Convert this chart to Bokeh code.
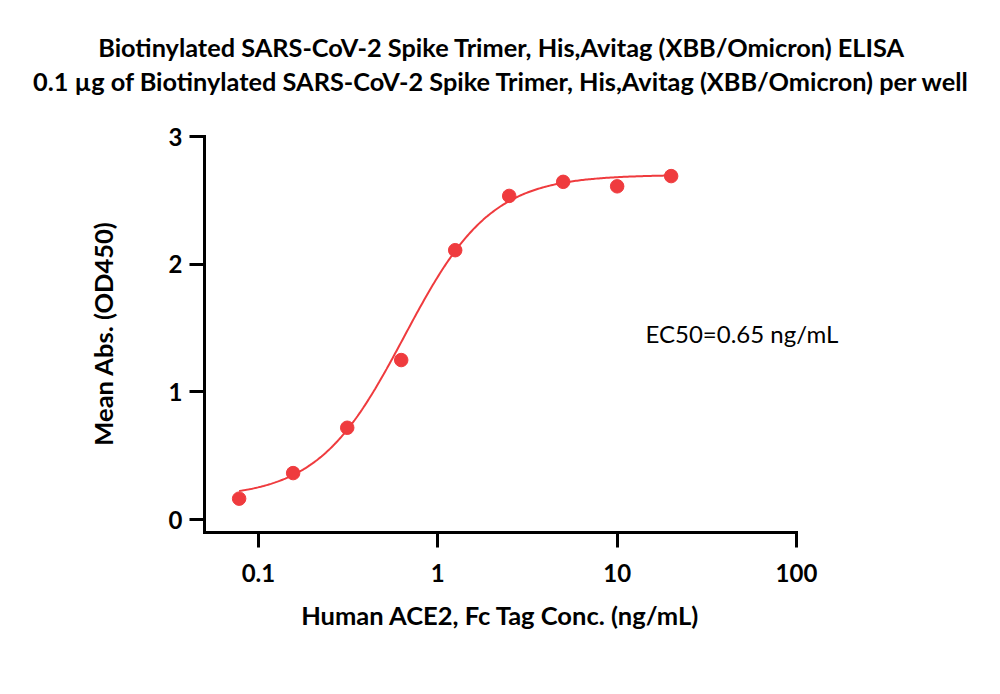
import numpy as np
from bokeh.plotting import figure
from bokeh.models import Label, FixedTicker, Range1d
from bokeh.embed import file_html
from bokeh.resources import INLINE

# ---- data ----
conc = [0.078, 0.156, 0.3125, 0.625, 1.25, 2.5, 5, 10, 20]
od450 = [0.165, 0.365, 0.72, 1.25, 2.11, 2.535, 2.645, 2.61, 2.69]

# 4PL fit parameters (curve drawn by the fitted model)
fit_bottom = 0.17
fit_top = 2.70
fit_ec50 = 0.65
fit_hill = 1.8

x_ticks = [0.1, 1, 10, 100]
x_tick_labels = ["0.1", "1", "10", "100"]
y_ticks = [0, 1, 2, 3]

title1 = "Biotinylated SARS-CoV-2 Spike Trimer, His,Avitag (XBB/Omicron) ELISA"
title2 = "0.1 \u00b5g of Biotinylated SARS-CoV-2 Spike Trimer, His,Avitag (XBB/Omicron) per well"
x_label = "Human ACE2, Fc Tag Conc. (ng/mL)"
y_label = "Mean Abs. (OD450)"
ec50_text = "EC50=0.65 ng/mL"

RED = "#EF3B3E"
FONT = "Lato"

# ---- layout (pixels) ----
W, H = 1000, 694
ax_left, ax_right = 204, 796      # x axis drawn from 0.05 to 100
ax_top, ax_bottom = 136, 532      # y axis drawn from 3 to -0.1
x_lo, x_hi = 0.05, 100.0
y_lo, y_hi = -0.1, 3.0

# the frame covers the whole width and everything above the x axis,
# so that titles and notes are not clipped; axes are drawn at their bounds
px_per_dec = (ax_right - ax_left) / (np.log10(x_hi) - np.log10(x_lo))
x_start = 10 ** (np.log10(x_lo) - ax_left / px_per_dec)
x_end = 10 ** (np.log10(x_hi) + (W - ax_right) / px_per_dec)
px_per_unit = (ax_bottom - ax_top) / (y_hi - y_lo)
y_end = y_hi + ax_top / px_per_unit

p = figure(width=W, height=H, x_axis_type="log",
           x_range=Range1d(x_start, x_end), y_range=Range1d(y_lo, y_end),
           output_backend="svg", toolbar_location=None,
           min_border_left=0, min_border_right=0,
           min_border_top=0, min_border_bottom=H - ax_bottom)
p.outline_line_color = None
p.xgrid.visible = False
p.ygrid.visible = False
p.background_fill_color = "white"
p.border_fill_color = "white"

xs = np.geomspace(conc[0], conc[-1], 300)
ys = fit_bottom + (fit_top - fit_bottom) / (1 + (fit_ec50 / xs) ** fit_hill)
p.line(xs, ys, line_color=RED, line_width=2)
p.scatter(conc, od450, size=13.5, fill_color=RED, line_color=RED)

for ax in (p.xaxis[0], p.yaxis[0]):
    ax.axis_line_width = 3
    ax.axis_line_color = "black"
    ax.axis_line_cap = "square"
    ax.major_tick_line_width = 3
    ax.major_tick_line_color = "black"
    ax.major_tick_in = 0
    ax.major_tick_out = 15
    ax.minor_tick_line_color = None
    ax.major_label_text_font = FONT
    ax.major_label_text_font_style = "bold"
    ax.major_label_text_font_size = "24px"
    ax.major_label_text_color = "black"
    ax.axis_label_text_font = FONT
    ax.axis_label_text_font_style = "bold"
    ax.axis_label_text_font_size = "25.5px"
    ax.axis_label_text_color = "black"

p.xaxis.bounds = (x_lo, x_hi)
p.xaxis.ticker = FixedTicker(ticks=x_ticks)
p.xaxis.major_label_overrides = {t: l for t, l in zip(x_ticks, x_tick_labels)}
p.xaxis.major_label_standoff = 16
p.xaxis.axis_label = x_label
p.xaxis.axis_label_standoff = 15

p.yaxis.bounds = (y_lo, y_hi)
p.yaxis.fixed_location = x_lo
p.yaxis.ticker = FixedTicker(ticks=y_ticks)
p.yaxis.major_label_standoff = 7

# y axis title, placed beside the y axis
p.add_layout(Label(x=102, y=ax_bottom - 333, x_units="screen", y_units="screen",
                   text=y_label, angle=np.pi / 2, text_font=FONT, text_font_style="bold",
                   text_font_size="25.5px", text_color="black",
                   text_baseline="middle", text_align="center"))
p.add_layout(Label(x=645, y=ax_bottom - 333, x_units="screen", y_units="screen",
                   text=ec50_text, text_font=FONT, text_font_size="24px", text_color="black",
                   text_baseline="middle", text_align="left"))
p.add_layout(Label(x=501, y=ax_bottom - 46, x_units="screen", y_units="screen",
                   text=title1, text_font=FONT, text_font_style="bold", text_font_size="25.3px",
                   text_color="black", text_baseline="middle", text_align="center"))
p.add_layout(Label(x=501, y=ax_bottom - 80, x_units="screen", y_units="screen",
                   text=title2, text_font=FONT, text_font_style="bold", text_font_size="25.3px",
                   text_color="black", text_baseline="middle", text_align="center"))

open("out.html", "w").write(file_html(p, INLINE))
